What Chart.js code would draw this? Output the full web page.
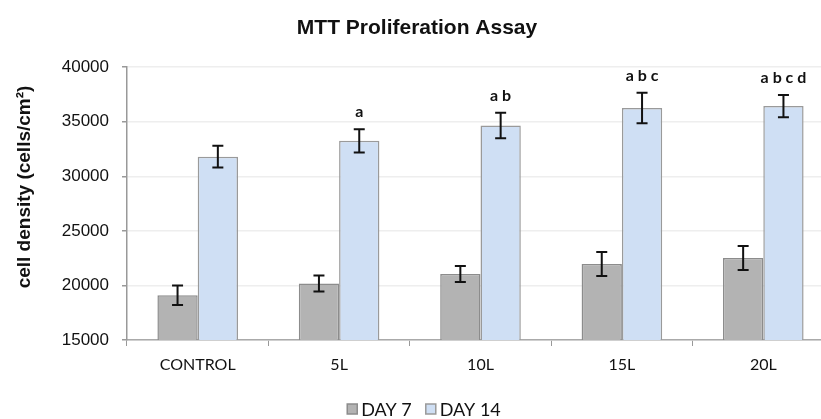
<!DOCTYPE html>
<html>
<head>
<meta charset="utf-8">
<script src="https://cdn.jsdelivr.net/npm/chart.js@4"></script>
<style>
html,body{margin:0;padding:0;background:#fff;overflow:hidden;width:821px;height:419px;}
#wrap{position:relative;width:836px;height:419px;}
</style>
</head>
<body>
<div id="wrap"><canvas id="c"></canvas></div>
<script>
const categories = ['CONTROL', '5L', '10L', '15L', '20L'];
const day7 = [19100, 20170, 21050, 21960, 22510];
const day7Err = [900, 730, 730, 1100, 1100];
const day14 = [31800, 33250, 34650, 36260, 36440];
const day14Err = [1000, 1060, 1170, 1400, 1020];
const day14Letters = ['', 'a', 'a b', 'a b c', 'a b c d'];
const yTicks = [15000, 20000, 25000, 30000, 35000, 40000];
const yTitle = 'cell density (cells/cm²)';

const SANS = '"Liberation Sans", Arial, sans-serif';
const NARROW = 'Lato, "Open Sans", sans-serif';

const errorBars = {
  id: 'errorBars',
  afterDatasetsDraw(chart) {
    const ctx = chart.ctx;
    const y = chart.scales.y;
    chart.data.datasets.forEach((ds, di) => {
      const meta = chart.getDatasetMeta(di);
      meta.data.forEach((el, i) => {
        const v = ds.data[i], e = ds.errors[i];
        const yt = y.getPixelForValue(v + e), yb = y.getPixelForValue(v - e);
        ctx.save();
        ctx.strokeStyle = '#111';
        ctx.lineWidth = 2;
        ctx.beginPath();
        ctx.moveTo(el.x, yt); ctx.lineTo(el.x, yb);
        ctx.moveTo(el.x - 5.5, yt); ctx.lineTo(el.x + 5.5, yt);
        ctx.moveTo(el.x - 5.5, yb); ctx.lineTo(el.x + 5.5, yb);
        ctx.stroke();
        if (ds.letters && ds.letters[i]) {
          ctx.fillStyle = '#111';
          ctx.font = 'bold 16px ' + NARROW;
          ctx.textAlign = 'center';
          ctx.textBaseline = 'middle';
          ctx.fillText(ds.letters[i], el.x, yt - 17);
        }
        ctx.restore();
      });
    });
  }
};

const extras = {
  id: 'extras',
  afterDraw(chart) {
    const ctx = chart.ctx;
    const dss = chart.data.datasets;
    ctx.save();
    // legend
    ctx.font = '18px ' + NARROW;
    const box = 10, gapText = 4, gapItem = 14;
    const widths = dss.map(d => box + gapText + ctx.measureText(d.label).width);
    const total = widths.reduce((a, b) => a + b, 0) + gapItem * (dss.length - 1);
    let x = 424 - total / 2;
    const yc = 409;
    dss.forEach((d, i) => {
      ctx.fillStyle = d.backgroundColor;
      ctx.strokeStyle = d.borderColor;
      ctx.lineWidth = 1.5;
      ctx.fillRect(x, yc - box / 2, box, box);
      ctx.strokeRect(x, yc - box / 2, box, box);
      ctx.fillStyle = '#111';
      ctx.textAlign = 'left';
      ctx.textBaseline = 'middle';
      ctx.fillText(d.label, x + box + gapText, yc + 1);
      x += widths[i] + gapItem;
    });
    // y-axis title
    ctx.translate(25, 187);
    ctx.rotate(-Math.PI / 2);
    ctx.font = 'bold 19px ' + SANS;
    ctx.fillStyle = '#111';
    ctx.textAlign = 'center';
    ctx.textBaseline = 'middle';
    ctx.fillText(yTitle, 0, 0);
    ctx.restore();
  }
};

new Chart(document.getElementById('c'), {
  type: 'bar',
  data: {
    labels: categories,
    datasets: [
      { label: 'DAY 7', data: day7, errors: day7Err, backgroundColor: '#b3b3b3', borderColor: '#8c8c8c', borderWidth: 1.5,
        categoryPercentage: 0.57, barPercentage: 1.0 },
      { label: 'DAY 14', data: day14, errors: day14Err, letters: day14Letters, backgroundColor: '#cfdff4', borderColor: '#9a9a9a', borderWidth: 1.5,
        categoryPercentage: 0.57, barPercentage: 1.0 }
    ]
  },
  options: {
    responsive: true,
    maintainAspectRatio: false,
    animation: false,
    devicePixelRatio: 1,
    layout: { padding: { left: 0, right: 2, top: 4, bottom: 0 } },
    plugins: {
      title: {
        display: true,
        text: 'MTT Proliferation Assay',
        color: '#111',
        font: { family: SANS, size: 21, weight: 'bold' },
        padding: { top: 12, bottom: 26 }
      },
      legend: { display: false },
      tooltip: { enabled: false }
    },
    scales: {
      x: {
        afterFit(scale) { scale.height = 79; },
        grid: { display: true, drawOnChartArea: false, drawTicks: true, tickLength: 6, tickColor: '#999', offset: true },
        border: { color: '#aaa', width: 1.5 },
        ticks: { color: '#111', font: { family: NARROW, size: 16 }, padding: 9 }
      },
      y: {
        min: 15000, max: 40000,
        afterBuildTicks(scale) { scale.ticks = yTicks.map(v => ({ value: v })); },
        afterFit(scale) { scale.width = 127; },
        grid: { color: '#eeeeee', lineWidth: 1.5, tickColor: '#999', tickLength: 5 },
        border: { color: '#999', width: 1.5 },
        ticks: { color: '#111', font: { family: SANS, size: 17 }, padding: 13, callback: v => String(v) }
      }
    }
  },
  plugins: [errorBars, extras]
});
</script>
</body>
</html>
